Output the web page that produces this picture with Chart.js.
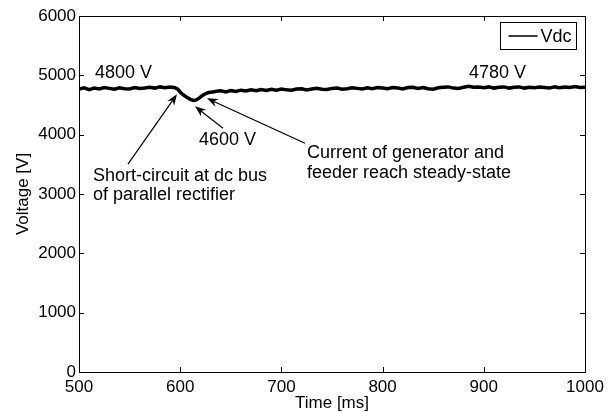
<!DOCTYPE html>
<html>
<head>
<meta charset="utf-8">
<script src="https://cdn.jsdelivr.net/npm/chart.js@4.4.1/dist/chart.umd.min.js"></script>
<style>
  html, body { margin: 0; padding: 0; background: #fff; }
  #wrap { width: 611px; height: 412px; }
</style>
</head>
<body>
<div id="wrap"><canvas id="c" width="611" height="412"></canvas></div>
<script>
// ---- data ----
const timeMs = [500,505,510,515,520,525,530,535,540,545,550,555,560,565,570,575,580,585,590,595,
  598,601,604,607,610,613,616,619,622,625,628,632,636,640,645,650,655,660,665,670,675,680,685,690,695,
  700,705,710,715,720,725,730,735,740,745,750,755,760,765,770,775,780,785,790,795,
  800,805,810,815,820,825,830,835,840,845,850,855,860,865,870,875,880,885,890,895,
  900,905,910,915,920,925,930,935,940,945,950,955,960,965,970,975,980,985,990,995,1000];
const vdc = [4770,4790,4760,4785,4770,4795,4780,4765,4790,4775,4770,4795,4780,4785,4800,4785,4805,4790,4805,4790,
  4760,4700,4660,4625,4595,4575,4585,4620,4660,4690,4710,4720,4730,4740,4720,4745,4730,4750,4735,4755,4740,4760,4745,4765,4750,
  4770,4755,4750,4770,4775,4755,4770,4780,4765,4760,4780,4785,4765,4775,4790,4780,4770,4790,4775,4795,
  4785,4775,4795,4785,4770,4795,4800,4780,4795,4775,4765,4790,4800,4805,4785,4780,4800,4815,4800,4805,
  4790,4805,4785,4800,4805,4785,4800,4805,4785,4800,4790,4805,4795,4785,4805,4790,4805,4795,4810,4795,4800];
const xTicks = [500,600,700,800,900,1000];
const yTicks = [0,1000,2000,3000,4000,5000,6000];
const seriesName = 'Vdc';

// annotation texts anchored in data coordinates (ms, V)
const noteTexts = ['4800 V','4780 V','4600 V','Short-circuit at dc bus','of parallel rectifier','Current of generator and','feeder reach steady-state'];
const noteX = [515.8, 885.4, 618.6, 513.8, 513.8, 725.3, 725.3];
const noteY = [5042, 5042, 3906, 3308, 2980, 3695, 3359];
// arrows: from (x0,y0) to tip (x1,y1)
const arrowX0 = [548.4, 642.3, 723.3];
const arrowY0 = [3502, 4108, 3855];
const arrowX1 = [596.8, 614.6, 626.5];
const arrowY1 = [4680, 4478, 4613];

Chart.defaults.font.family = "'Liberation Sans', Arial, sans-serif";
Chart.defaults.color = '#000';

const decor = {
  id: 'decor',
  afterDatasetsDraw(chart) {
    const {ctx, chartArea: a, scales: {x, y}} = chart;
    ctx.save();
    ctx.strokeStyle = '#000';
    ctx.fillStyle = '#000';
    ctx.lineWidth = 1;
    // frame
    ctx.strokeRect(Math.round(a.left) + 0.5, Math.round(a.top) + 0.5, Math.round(a.right - a.left), Math.round(a.bottom - a.top));
    // inward ticks
    const tl = 5;
    ctx.beginPath();
    xTicks.forEach(v => {
      const px = Math.round(x.getPixelForValue(v)) + 0.5;
      ctx.moveTo(px, a.bottom); ctx.lineTo(px, a.bottom - tl);
      ctx.moveTo(px, a.top); ctx.lineTo(px, a.top + tl);
    });
    yTicks.forEach(v => {
      const py = Math.round(y.getPixelForValue(v)) + 0.5;
      ctx.moveTo(a.left, py); ctx.lineTo(a.left + tl, py);
      ctx.moveTo(a.right, py); ctx.lineTo(a.right - tl, py);
    });
    ctx.stroke();

    // annotation text
    ctx.font = "18px 'Liberation Sans', Arial, sans-serif";
    ctx.textAlign = 'left';
    ctx.textBaseline = 'middle';
    noteTexts.forEach((t, i) => {
      ctx.fillText(t, x.getPixelForValue(noteX[i]), y.getPixelForValue(noteY[i]));
    });

    // arrows
    arrowX0.forEach((_, i) => {
      const x0 = x.getPixelForValue(arrowX0[i]), y0 = y.getPixelForValue(arrowY0[i]);
      const x1 = x.getPixelForValue(arrowX1[i]), y1 = y.getPixelForValue(arrowY1[i]);
      const ang = Math.atan2(y1 - y0, x1 - x0);
      const L = 11, W = 4.2, N = 7.5;
      const ux = Math.cos(ang), uy = Math.sin(ang);
      ctx.beginPath();
      ctx.lineWidth = 1.2;
      ctx.moveTo(x0, y0);
      ctx.lineTo(x1 - ux * N, y1 - uy * N);
      ctx.stroke();
      ctx.beginPath();
      ctx.moveTo(x1, y1);
      ctx.lineTo(x1 - ux * L - uy * W, y1 - uy * L + ux * W);
      ctx.lineTo(x1 - ux * N, y1 - uy * N);
      ctx.lineTo(x1 - ux * L + uy * W, y1 - uy * L - ux * W);
      ctx.closePath();
      ctx.fill();
    });

    // legend box (top-right inside plot)
    const bw = 76, bh = 27;
    const bx = Math.round(a.right - 9 - bw) + 0.5, by = Math.round(a.top + 6) + 0.5;
    ctx.fillStyle = '#fff';
    ctx.fillRect(bx, by, bw, bh);
    ctx.lineWidth = 1;
    ctx.strokeRect(bx, by, bw, bh);
    ctx.beginPath();
    ctx.lineWidth = 1.5;
    ctx.moveTo(bx + 8, by + bh / 2);
    ctx.lineTo(bx + 37, by + bh / 2);
    ctx.stroke();
    ctx.fillStyle = '#000';
    ctx.font = "18px 'Liberation Sans', Arial, sans-serif";
    ctx.textBaseline = 'middle';
    ctx.fillText(seriesName, bx + 40, by + bh / 2 + 1);
    ctx.restore();
  }
};

new Chart(document.getElementById('c'), {
  type: 'line',
  data: {
    datasets: [{
      label: seriesName,
      data: timeMs.map((t, i) => ({x: t, y: vdc[i]})),
      borderColor: '#000',
      borderWidth: 3.5,
      pointRadius: 0,
      tension: 0,
      fill: false
    }]
  },
  options: {
    responsive: false,
    animation: false,
    devicePixelRatio: 1,
    layout: { padding: { left: 0, top: 16, right: 26, bottom: 0 } },
    plugins: { legend: { display: false }, tooltip: { enabled: false } },
    scales: {
      x: {
        type: 'linear', min: 500, max: 1000,
        afterBuildTicks: s => { s.ticks = xTicks.map(v => ({value: v})); },
        afterFit: s => { s.height = 40; },
        ticks: { font: { size: 17 }, color: '#000', padding: 5, maxRotation: 0, autoSkip: false, callback: v => String(v) },
        grid: { display: false, drawTicks: false },
        border: { display: false },
        title: { display: true, text: 'Time [ms]', font: { size: 17, lineHeight: 1 }, padding: { top: 0, bottom: 0 } }
      },
      y: {
        type: 'linear', min: 0, max: 6000,
        afterBuildTicks: s => { s.ticks = yTicks.map(v => ({value: v})); },
        afterFit: s => { s.width = 79; },
        ticks: { font: { size: 17 }, color: '#000', padding: 3, autoSkip: false, callback: v => String(v) },
        grid: { display: false, drawTicks: false },
        border: { display: false },
        title: { display: true, text: 'Voltage [V]', font: { size: 17, lineHeight: 1.2 }, padding: { top: 13, bottom: 0 } }
      }
    }
  },
  plugins: [decor]
});
</script>
</body>
</html>
